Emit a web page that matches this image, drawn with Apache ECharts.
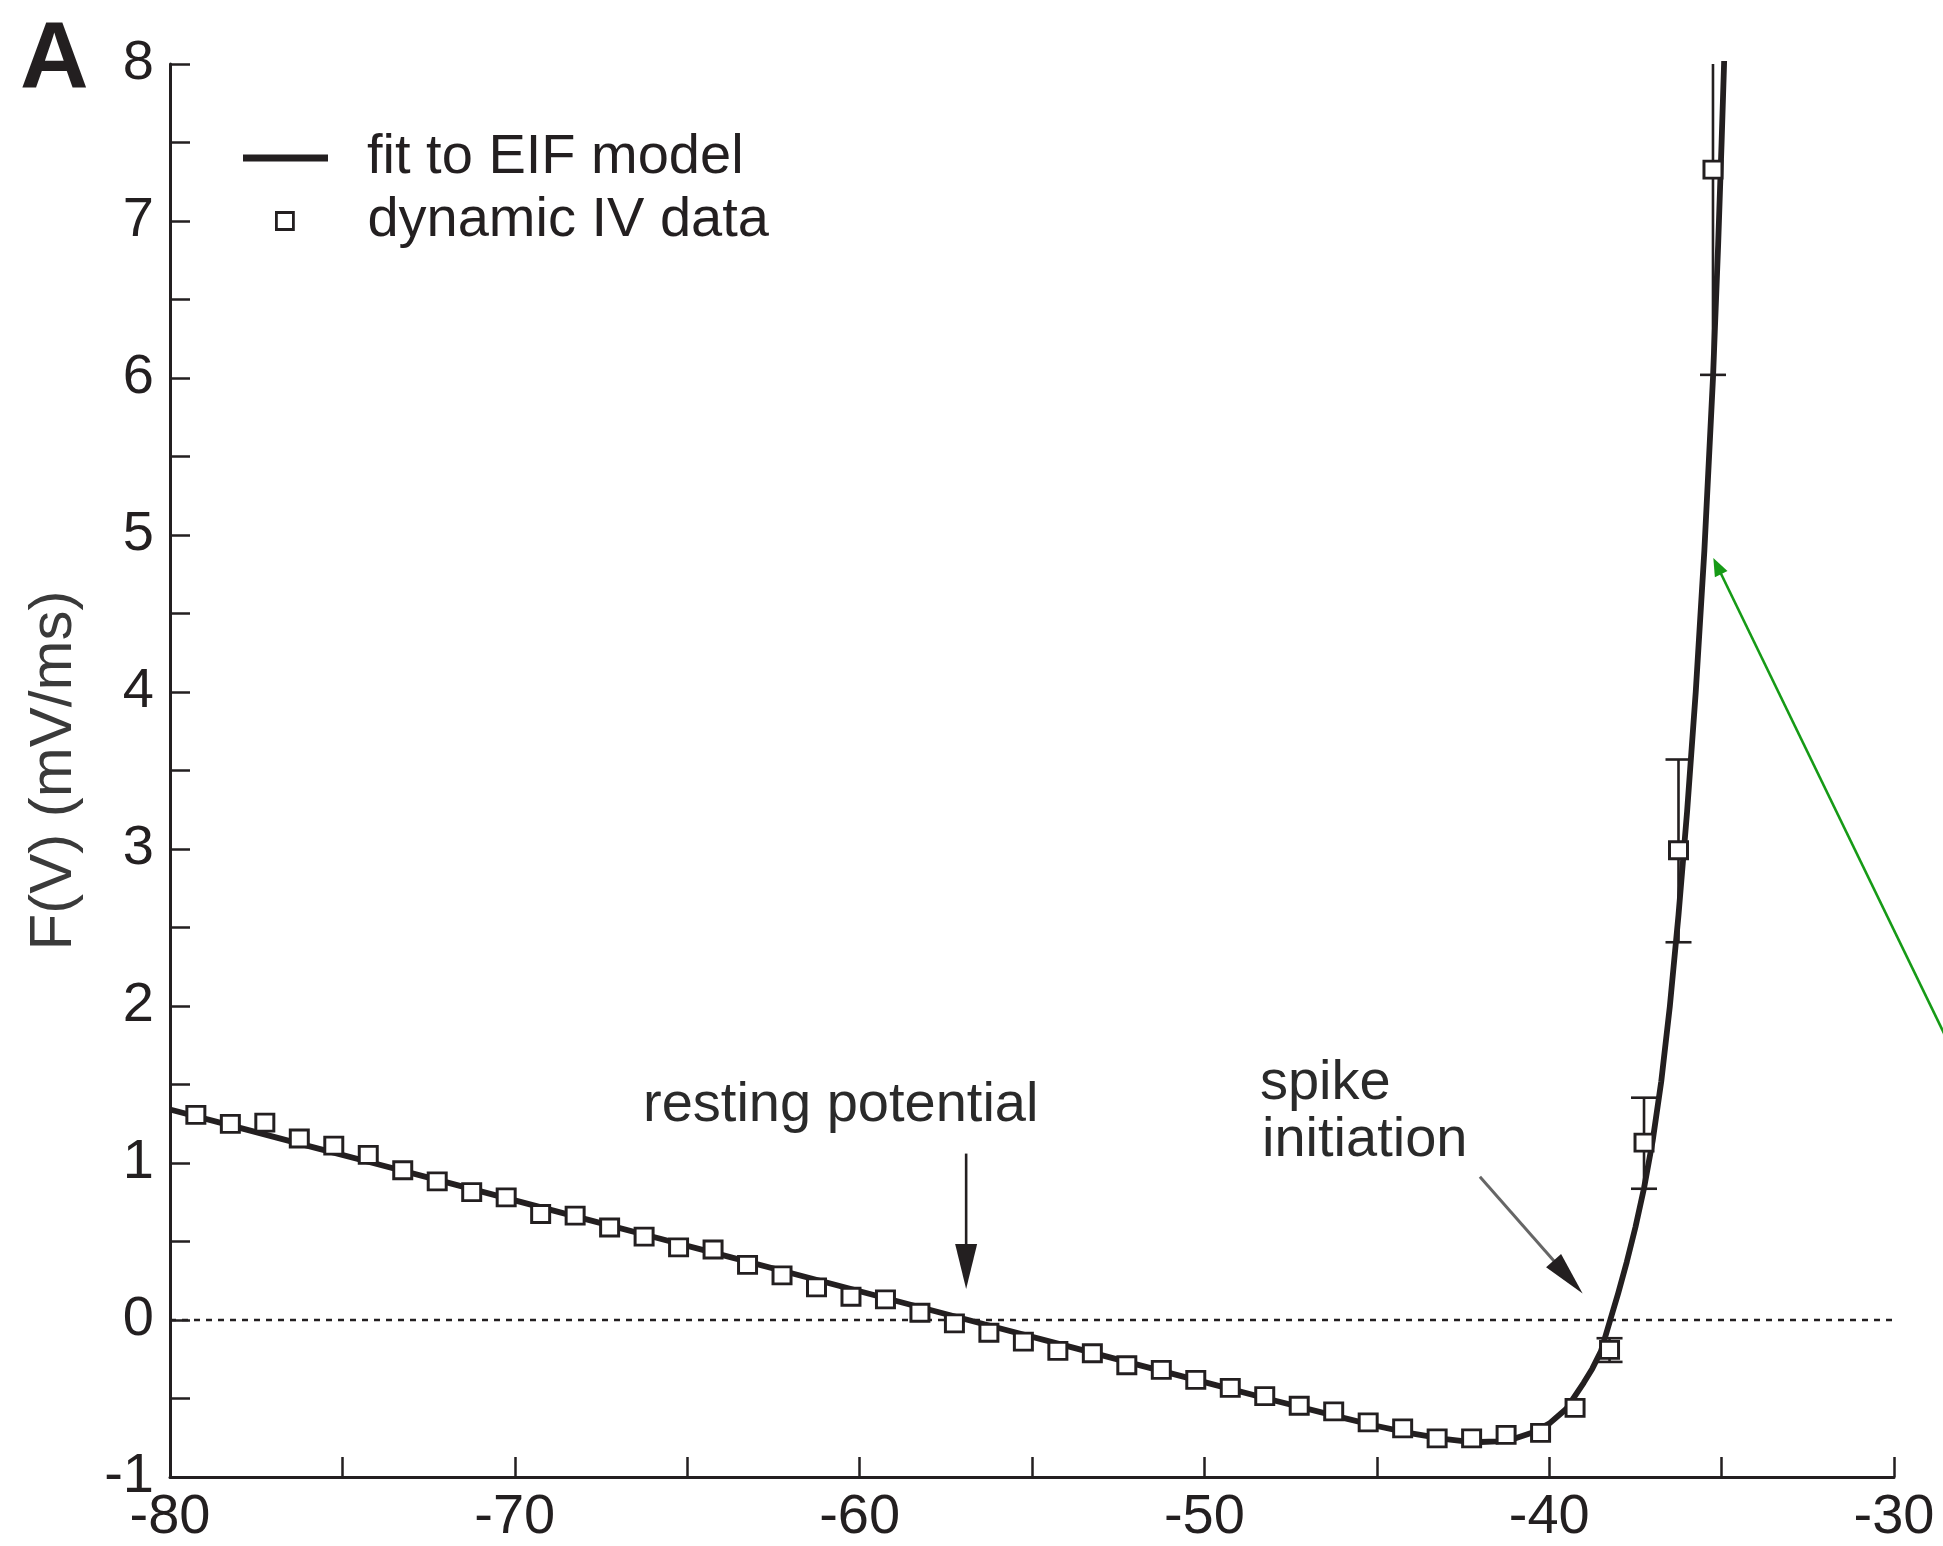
<!DOCTYPE html>
<html>
<head>
<meta charset="utf-8">
<script src="https://cdn.jsdelivr.net/npm/echarts@6/dist/echarts.min.js"></script>
<style>
html,body{margin:0;padding:0;background:#fff;}
#chart{width:1943px;height:1546px;}
</style>
</head>
<body>
<div id="chart"></div>
<script>
// ---- data ----
const dataV = [-79.25, -78.25, -77.25, -76.25, -75.25, -74.25, -73.25, -72.25, -71.25, -70.25,
  -69.25, -68.25, -67.25, -66.25, -65.25, -64.25, -63.25, -62.25, -61.25, -60.25,
  -59.25, -58.25, -57.25, -56.25, -55.25, -54.25, -53.25, -52.25, -51.25, -50.25,
  -49.25, -48.25, -47.25, -46.25, -45.25, -44.25, -43.25, -42.25, -41.25, -40.25,
  -39.25, -38.25, -37.25, -36.25, -35.25];
const dataF = [1.306, 1.249, 1.257, 1.156, 1.111, 1.052, 0.954, 0.883, 0.815, 0.781,
  0.675, 0.665, 0.589, 0.531, 0.463, 0.449, 0.351, 0.284, 0.208, 0.148,
  0.131, 0.046, -0.021, -0.081, -0.138, -0.197, -0.212, -0.288, -0.318, -0.381,
  -0.432, -0.485, -0.546, -0.582, -0.652, -0.690, -0.754, -0.754, -0.732, -0.719,
  -0.560, -0.190, 1.130, 2.992, 7.327];

const errV  = [-38.25, -37.25, -36.25, -35.25];
const errLo = [-0.267, 0.836, 2.406, 6.02];
const errHi = [-0.116, 1.416, 3.57, 8.63];

const fitV = [-80, -78, -76, -74, -72, -70, -68, -66, -64, -62, -60, -58, -56, -54, -52, -50,
  -48, -46, -45, -44, -43, -42.5, -42, -41.5, -41, -40.5, -40, -39.5, -39, -38.75, -38.5,
  -38.23, -38, -37.75, -37.5, -37.25, -37, -36.75, -36.5, -36.25, -36, -35.75, -35.5,
  -35.25, -35.1, -35, -34.9];
const fitF = [1.341, 1.225, 1.109, 0.994, 0.878, 0.762, 0.646, 0.530, 0.415, 0.299, 0.183, 0.067, -0.049, -0.165, -0.281, -0.396,
  -0.511, -0.622, -0.675, -0.722, -0.759, -0.772, -0.777, -0.773, -0.755, -0.718, -0.66, -0.565, -0.40, -0.31, -0.20,
  0.0, 0.17, 0.37, 0.59, 0.84, 1.14, 1.52, 2.0, 2.58, 3.24, 4.0, 4.9,
  6.0, 6.85, 7.5, 8.2];

const zeroV = [-80, -30];
const zeroF = [0, 0];

const xTicks = [-80, -70, -60, -50, -40, -30];
const yTicks = [-1, 0, 1, 2, 3, 4, 5, 6, 7, 8];

// annotation arrows: [x1, y1, x2, y2] in data units (tail -> tip)
const arrowRest  = [-56.91, 1.06, -56.91, 0.197];
const arrowSpike = [-42.01, 0.912, -39.03, 0.168];
const arrowGreen = [-28.09, 1.618, -35.24, 4.854];

const annText = ['resting potential', 'spike', 'initiation'];
const annX = [-66.28, -48.39, -48.33];
const annY = [1.369, 1.509, 1.140];

// ---- styles ----
const FONT = "'Liberation Sans', Arial, Helvetica, sans-serif";
const INK = '#231f20';
const arrowStyles = [
  {line: INK, lw: 2.6, head: INK, hl: 45, hw: 22},
  {line: '#666666', lw: 3, head: INK, hl: 44, hw: 20},
  {line: '#169a16', lw: 2.6, head: '#169a16', hl: 18, hw: 14}
];

const chart = echarts.init(document.getElementById('chart'), null, {renderer: 'canvas'});

const option = {
  animation: false,
  backgroundColor: '#ffffff',
  grid: {left: 170, right: 49, top: 64, bottom: 65, containLabel: false},
  graphic: [{
    type: 'text', left: 20, top: 14, z: 10,
    style: {text: 'A', font: 'bold 95px ' + FONT, fill: INK}
  }],
  legend: [{
    data: [{name: 'fit to EIF model', icon: 'rect', itemStyle: {color: INK, borderWidth: 0}}],
    left: 243, top: 130, padding: 0,
    itemWidth: 85, itemHeight: 7, selectedMode: false,
    textStyle: {fontSize: 56, color: INK, fontFamily: FONT, padding: [0, 0, 0, 34]}
  }, {
    data: [{name: 'dynamic IV data', icon: 'rect', itemStyle: {color: '#ffffff', borderColor: INK, borderWidth: 2.8}}],
    left: 275, top: 193, padding: 0,
    itemWidth: 17, itemHeight: 17, selectedMode: false,
    textStyle: {fontSize: 56, color: INK, fontFamily: FONT, padding: [0, 0, 0, 69]}
  }],
  xAxis: {
    type: 'value', min: -80, max: -30, interval: 5,
    axisLine: {show: true, onZero: false, lineStyle: {color: INK, width: 3}},
    axisTick: {show: true, inside: true, length: 20, lineStyle: {color: INK, width: 2.5}},
    axisLabel: {
      formatter: v => (xTicks.indexOf(v) >= 0 ? String(v) : ''),
      fontSize: 56, color: INK, fontFamily: FONT, margin: 13
    },
    splitLine: {show: false}
  },
  yAxis: {
    type: 'value', min: -1, max: 8, interval: 0.5,
    name: 'F(V) (mV/ms)', nameLocation: 'middle', nameGap: 86,
    nameTextStyle: {fontSize: 60, color: '#3a3a3a', fontFamily: FONT},
    axisLine: {show: true, onZero: false, lineStyle: {color: INK, width: 3}},
    axisTick: {show: true, inside: true, length: 20, lineStyle: {color: INK, width: 2.5}},
    axisLabel: {
      formatter: v => (yTicks.indexOf(v) >= 0 ? String(v) : ''),
      fontSize: 56, color: INK, fontFamily: FONT, margin: 16
    },
    splitLine: {show: false}
  },
  series: [{
    name: 'zero', type: 'line', z: 1, silent: true,
    data: zeroV.map((v, i) => [v, zeroF[i]]),
    symbol: 'none',
    lineStyle: {color: INK, width: 2.5, type: [6, 6]}
  }, {
    name: 'err', type: 'custom', z: 2, clip: true, silent: true,
    data: errV.map((v, i) => [v, errLo[i], errHi[i]]),
    encode: {x: 0, y: [1, 2]},
    renderItem: function (params, api) {
      const x = api.value(0);
      const pl = api.coord([x, api.value(1)]);
      const ph = api.coord([x, api.value(2)]);
      const cw = 13;
      const st = {stroke: INK, lineWidth: 2.6};
      return {type: 'group', children: [
        {type: 'line', shape: {x1: pl[0], y1: pl[1], x2: ph[0], y2: ph[1]}, style: st},
        {type: 'line', shape: {x1: pl[0] - cw, y1: pl[1], x2: pl[0] + cw, y2: pl[1]}, style: st},
        {type: 'line', shape: {x1: ph[0] - cw, y1: ph[1], x2: ph[0] + cw, y2: ph[1]}, style: st}
      ]};
    }
  }, {
    name: 'fit to EIF model', type: 'line', z: 3,
    data: fitV.map((v, i) => [v, fitF[i]]),
    symbol: 'none', showSymbol: false, clip: true,
    itemStyle: {color: INK},
    lineStyle: {color: INK, width: 5.8, join: 'round'}
  }, {
    name: 'dynamic IV data', type: 'scatter', z: 4,
    data: dataV.map((v, i) => [v, dataF[i]]),
    symbol: 'rect', symbolSize: [18, 17],
    itemStyle: {color: '#ffffff', borderColor: INK, borderWidth: 2.9, opacity: 1}
  }, {
    name: 'arrows', type: 'custom', z: 5, clip: false, silent: true,
    data: [arrowRest, arrowSpike, arrowGreen],
    encode: {x: [0, 2], y: [1, 3]},
    renderItem: function (params, api) {
      const st = arrowStyles[params.dataIndex];
      const p1 = api.coord([api.value(0), api.value(1)]);
      const p2 = api.coord([api.value(2), api.value(3)]);
      const dx = p2[0] - p1[0], dy = p2[1] - p1[1];
      const len = Math.sqrt(dx * dx + dy * dy);
      const ux = dx / len, uy = dy / len;
      const bx = p2[0] - ux * st.hl, by = p2[1] - uy * st.hl;
      const nx = -uy, ny = ux, hw = st.hw / 2;
      return {type: 'group', children: [
        {type: 'line', shape: {x1: p1[0], y1: p1[1], x2: bx + ux * 4, y2: by + uy * 4},
         style: {stroke: st.line, lineWidth: st.lw}},
        {type: 'polygon', shape: {points: [[p2[0], p2[1]], [bx + nx * hw, by + ny * hw], [bx - nx * hw, by - ny * hw]]},
         style: {fill: st.head}}
      ]};
    }
  }, {
    name: 'labels', type: 'custom', z: 6, clip: false, silent: true,
    data: annX.map((v, i) => [v, annY[i]]),
    renderItem: function (params, api) {
      const p = api.coord([api.value(0), api.value(1)]);
      return {type: 'text', x: p[0], y: p[1],
        style: {text: annText[params.dataIndex], fontSize: 56, fontFamily: FONT, fill: '#2a2a2a',
                align: 'left', verticalAlign: 'middle'}};
    }
  }]
};
chart.setOption(option);
</script>
</body>
</html>
